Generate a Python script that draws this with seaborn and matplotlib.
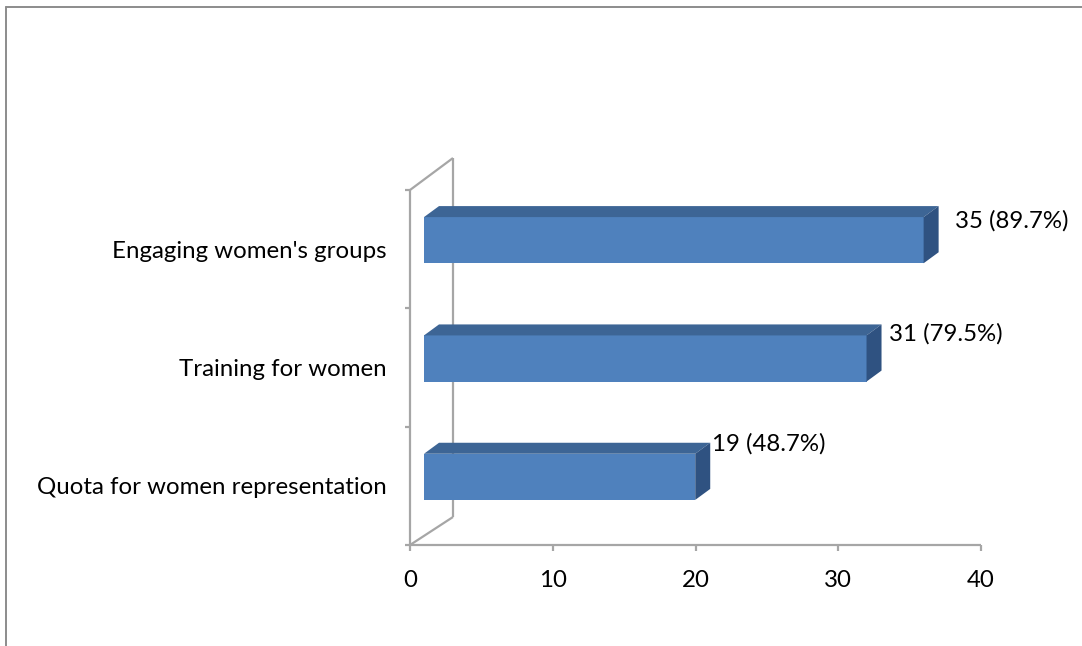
import matplotlib
matplotlib.use("Agg")
import matplotlib.pyplot as plt
from matplotlib.patches import Polygon
from matplotlib.lines import Line2D
from matplotlib.transforms import ScaledTranslation
import seaborn as sns
import pandas as pd

# Survey responses: strategies for women's participation
categories = ["Engaging women's groups", "Training for women", "Quota for women representation"]
counts = [35, 31, 19]
percents = [89.7, 79.5, 48.7]
x_ticks = [0, 10, 20, 30, 40]

df = pd.DataFrame({"strategy": categories, "count": counts})

sns.set_theme(style="white")
plt.rcParams["font.family"] = ["Lato", "DejaVu Sans"]

W, H, DPI = 1082, 646, 100
fig = plt.figure(figsize=(W / DPI, H / DPI), dpi=DPI)

# plot area (front plane of the 3-D box)
x0, x1, yb, yt = 410, 981, 545, 190
ax = fig.add_axes([x0 / W, 1 - yb / H, (x1 - x0) / W, (yb - yt) / H])
ax.patch.set_visible(False)

FRONT = "#4F81BD"
TOP = "#3D6595"
SIDE = "#2F5281"
GRID = "#A6A6A6"
FS = 17.3

bar_h = 0.39
sns.barplot(data=df, x="count", y="strategy", orient="h", color=FRONT,
            saturation=1, width=bar_h, ax=ax, edgecolor="none")

ax.set_xlim(0, 40)
ax.set_ylim(2.5, -0.5)
for s in ax.spines.values():
    s.set_visible(False)


def px(v):
    return v / DPI


# bars sit one third of the way into the box depth
front_shift = ScaledTranslation(px(14), px(9), fig.dpi_scale_trans)
depth_dx, depth_dy = 15, 11
bar_tr = ax.transData + front_shift

inv = ax.transData.inverted()
dx_d = inv.transform((depth_dx, 0))[0] - inv.transform((0, 0))[0]
dy_d = inv.transform((0, depth_dy))[1] - inv.transform((0, 0))[1]

for p in list(ax.patches):
    p.set_transform(bar_tr)
    p.set_clip_on(False)
    xl, yl = p.get_x(), p.get_y()
    w, h = p.get_width(), p.get_height()
    top_y, bot_y, xr = yl, yl + h, xl + w
    top = Polygon([(xl, top_y), (xr, top_y), (xr + dx_d, top_y + dy_d), (xl + dx_d, top_y + dy_d)],
                  closed=True, facecolor=TOP, edgecolor="none", transform=bar_tr, clip_on=False)
    side = Polygon([(xr, top_y), (xr + dx_d, top_y + dy_d), (xr + dx_d, bot_y + dy_d), (xr, bot_y)],
                   closed=True, facecolor=SIDE, edgecolor="none", transform=bar_tr, clip_on=False)
    ax.add_patch(top)
    ax.add_patch(side)

# value labels, nudged individually past each bar end
label_nudge = [(45, 5), (36, 11), (31, 19)]
for i, (c, pc) in enumerate(zip(counts, percents)):
    ax.annotate(f"{c} ({pc}%)", xy=(c, i - bar_h / 2), xytext=label_nudge[i],
                textcoords="offset pixels", ha="left", va="center",
                fontsize=FS, color="#000000", annotation_clip=False)

# axes ticks
ax.set_xticks(x_ticks)
ax.set_xticklabels([str(t) for t in x_ticks], fontsize=FS, color="#000000")
ax.tick_params(axis="x", length=0, pad=18)
ax.set_yticks(range(len(categories)))
ax.set_yticklabels(categories, fontsize=FS, color="#000000")
ax.tick_params(axis="y", length=0, pad=16.5)
ax.set_xlabel("")
ax.set_ylabel("")


# 3-D frame lines drawn in figure pixel coordinates, behind the bars
def fline(xs, ys, **kw):
    fig.add_artist(Line2D([x / W for x in xs], [1 - y / H for y in ys],
                          color=GRID, lw=1.6, solid_capstyle="butt", zorder=-1, **kw))


fline([x0, x1], [yb, yb])                    # floor front edge
fline([x0, x0], [yt, yb])                    # left front edge
fline([453, 453], [158, 517])                # back wall edge
fline([x0, 453], [yt, 158])                  # top diagonal
fline([x0, 453], [yb, 517])                  # bottom diagonal
for t in x_ticks:
    xp = x0 + (x1 - x0) * t / 40
    fline([xp, xp], [yb, yb + 6])
for k in range(4):
    yp = yt + (yb - yt) * k / 3
    fline([x0 - 5, x0], [yp, yp])

# outer chart border (top and left visible)
fig.add_artist(Line2D([5.5 / W, 1.0], [1 - 6.5 / H, 1 - 6.5 / H], color="#8C8C8C", lw=1.4, zorder=-1))
fig.add_artist(Line2D([5.5 / W, 5.5 / W], [0, 1 - 6.5 / H], color="#8C8C8C", lw=1.4, zorder=-1))

fig.savefig("out.png", dpi=DPI, facecolor="white")
